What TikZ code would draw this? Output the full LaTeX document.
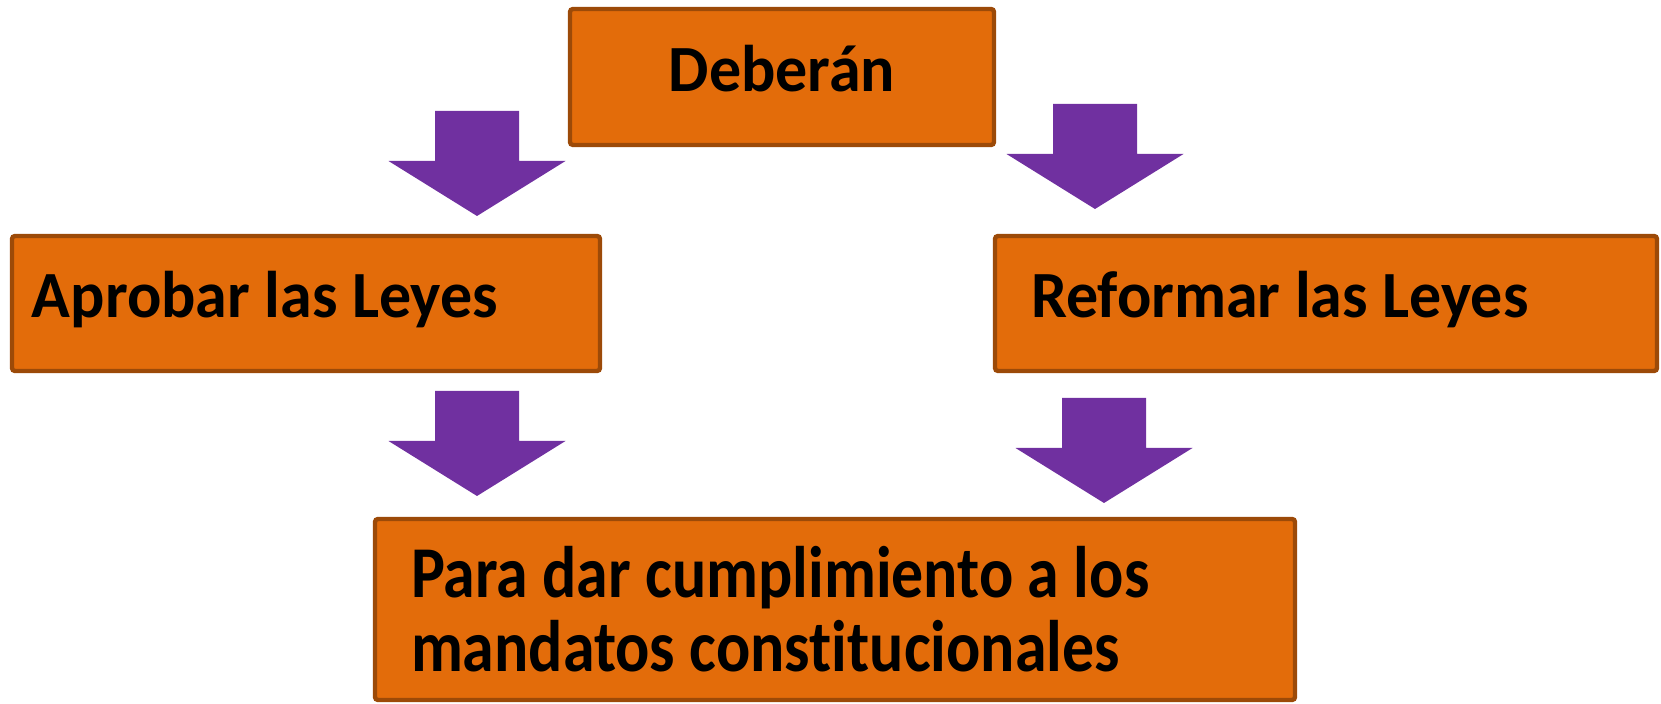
\documentclass[tikz,border=0pt]{standalone}
\usepackage{fontspec}
\setmainfont{Carlito}[Ligatures=NoCommon,FakeStretch=0.97]
\newfontfamily\narrowfont[FakeStretch=0.875,Ligatures=NoCommon]{Carlito}
\usepackage{tikz}
\usetikzlibrary{positioning}
\usepackage{xcolor}
\definecolor{boxorange}{HTML}{E36C0A}
\definecolor{boxedge}{HTML}{9C4A08}
\definecolor{arrowpurple}{HTML}{7030A0}

\tikzset{fatarrow/.pic={
    \fill[arrowpurple] (0,0) -- (88.5,55) -- (42,55) -- (42,105)
      -- (-42,105) -- (-42,55) -- (-88.5,55) -- cycle;
}}

\begin{document}
\begin{tikzpicture}[x=0.5pt,y=0.5pt]
    \tikzstyle{box}=[draw=boxedge,fill=boxorange,line width=2.2pt,rounded corners=1.5pt,
      font=\fontsize{33}{37}\selectfont\bfseries,text=black]
    \tikzstyle{onerow}=[box,text height=24pt,text depth=9.5pt,inner ysep=0pt]

    \useasboundingbox (0,0) rectangle (1661,-704);

    \node[onerow, minimum width=212pt, minimum height=68pt] (deb) at (782,-77) {Deberán};
    \node[onerow, minimum width=294pt, minimum height=67.5pt, inner xsep=10pt,
      text width=274pt, align=left] (apr) at (306,-303.5)
      {\spaceskip=0pt Aprobar las Leyes};
    \node[onerow, minimum width=331pt, minimum height=67.5pt, inner xsep=18pt,
      text width=295pt, align=left] (ref) at (1326,-303.5)
      {\spaceskip=0pt Reformar las Leyes};
    \node[box, minimum width=460pt, minimum height=90.5pt, inner xsep=18pt, inner ysep=0pt,
      text width=424pt, align=left, font=\fontsize{36.5}{37}\selectfont\narrowfont\bfseries]
      (para) at (835,-609.5)
      {\spaceskip=0pt Para dar cumplimiento a los\\\spaceskip=0pt mandatos constitucionales};

    % arrows
    \pic at (477,-216) {fatarrow};
    \pic at (1095,-209) {fatarrow};
    \pic at (477,-496) {fatarrow};
    \pic at (1104,-503) {fatarrow};
\end{tikzpicture}
\end{document}
